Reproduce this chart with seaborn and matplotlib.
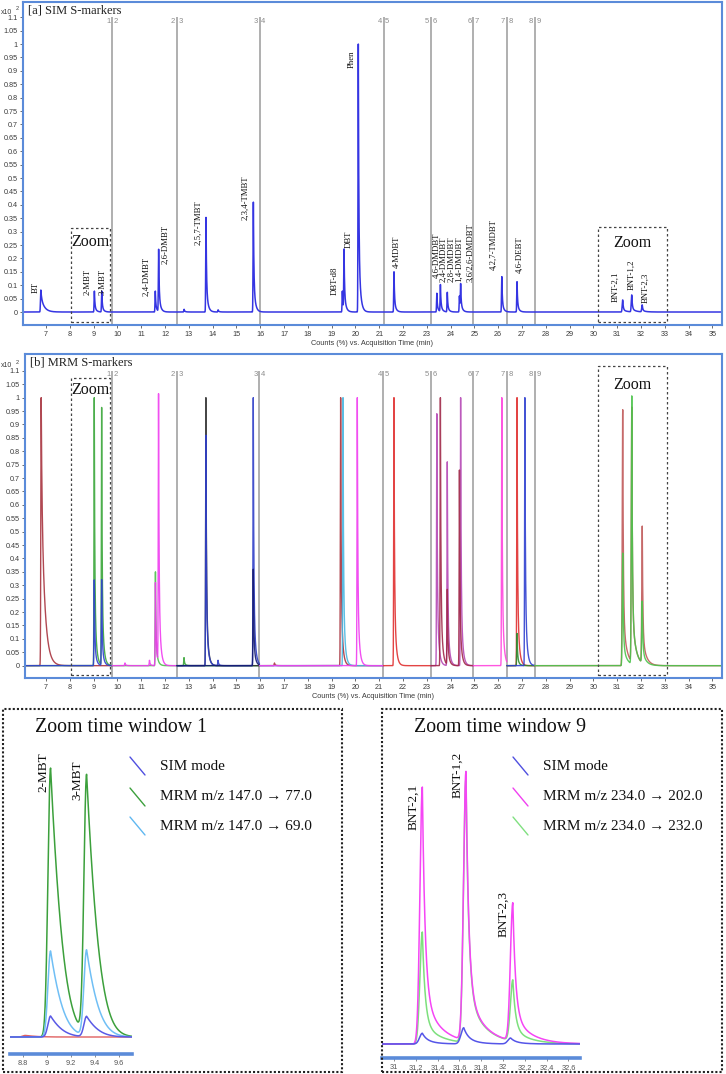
import numpy as np
import matplotlib
matplotlib.use("Agg")
import matplotlib.pyplot as plt
import seaborn as sns
from matplotlib.patches import Rectangle
from matplotlib.lines import Line2D

# ---------------------------------------------------------------- data
# boundaries of the acquisition time segments (min)
SEGMENT_BOUNDS = [9.78, 12.50, 15.97, 21.18, 23.17, 24.95, 26.36, 27.53]

# [a] SIM mode: retention time (min) and relative response (x10^2 %)
SIM_RT = [6.78, 9.03, 9.34, 11.59, 11.73, 12.80, 13.72, 14.23, 15.71, 19.45, 19.52,
          20.12, 21.62, 23.42, 23.57, 23.86, 24.37, 24.42, 26.15, 26.79, 31.23, 31.61, 32.05]
SIM_HEIGHT = [0.082, 0.078, 0.078, 0.078, 0.231, 0.010, 0.353, 0.008, 0.410, 0.078, 0.225,
              1.000, 0.150, 0.070, 0.100, 0.073, 0.060, 0.094, 0.132, 0.113, 0.045, 0.063, 0.026]

# compound names written above the SIM peaks
SIM_NAMES = ["BT", "2-MBT", "3-MBT", "2,4-DMBT", "2,6-DMBT", "2,5,7-TMBT", "2,3,4-TMBT",
             "DBT-d8", "DBT", "Phen", "4-MDBT", "4,6-DMDBT", "2,4-DMDBT", "2,8-DMDBT",
             "1,4-DMDBT", "3,6/2,6-DMDBT", "4,2,7-TMDBT", "4,6-DEBT", "BNT-2,1", "BNT-1,2",
             "BNT-2,3"]

# [b] MRM mode: one entry per transition trace (segment number, peaks)
MRM_SEGMENT = [1, 1, 1, 2, 2, 3, 3, 3, 3, 4, 4, 4, 5, 6, 6, 7, 8, 8, 8, 9, 9]
MRM_RT = [[6.80], [9.03, 9.34], [9.03, 9.34],
          [11.60], [10.32, 11.35, 11.60, 11.73],
          [12.80], [13.72], [13.72, 14.23, 15.71], [15.71],
          [16.60, 19.38], [19.48], [20.08],
          [21.62],
          [23.42, 23.86, 24.42], [23.57, 23.86, 24.37],
          [26.15],
          [26.79], [26.79], [27.12],
          [31.23, 31.61, 32.05], [31.23, 31.61, 32.05]]
MRM_HEIGHT = [[1.0], [1.0, 0.96], [0.32, 0.32],
              [0.35], [0.01, 0.02, 0.31, 1.0],
              [0.03], [1.0], [0.86, 0.02, 1.0], [0.36],
              [0.01, 1.0], [1.0], [1.0],
              [1.0],
              [0.94, 0.76, 1.0], [1.0, 0.28, 0.73],
              [1.0],
              [1.0], [0.12], [1.0],
              [0.955, 0.95, 0.51], [0.42, 1.0, 0.23]]

# zoom time window 1 (2-MBT, 3-MBT)
ZOOM1_RT = [9.03, 9.33]
ZOOM1_SIM = [0.078, 0.076]
ZOOM1_MRM_77 = [1.0, 0.963]
ZOOM1_MRM_69 = [0.32, 0.32]
ZOOM1_NAMES = ["2-MBT", "3-MBT"]

# zoom time window 9 (benzonaphthothiophenes)
ZOOM9_RT = [31.26, 31.66, 32.09]
ZOOM9_SIM = [0.04, 0.06, 0.022]
ZOOM9_MRM_202 = [0.955, 1.0, 0.513]
ZOOM9_MRM_232 = [0.416, 0.98, 0.227]
ZOOM9_NAMES = ["BNT-2,1", "BNT-1,2", "BNT-2,3"]

# ---------------------------------------------------------------- style / layout
sns.set_theme(style="white")
plt.rcParams['font.family'] = ['DejaVu Sans']
SERIF = ['Liberation Serif', 'DejaVu Serif']
SANS = ['Liberation Sans', 'DejaVu Sans']

W, H = 726, 1074
FRAME = "#5b8bd9"
SEG_GRAY = "#a9a9a9"

# peak shapes: sigma (front), tau1, tau2, fraction of tau1, gaussian cut of the tail
SHAPES = {
    "std": (0.012, 0.02, 0.07, 0.7, None),
    "bt": (0.015, 0.03, 0.14, 0.3, None),
    "bnt": (0.02, 0.025, 0.15, 0.8, None),
    "zoom1": (0.022, 0.11, 0.11, 1.0, 0.17),
    "zoom9": (0.022, 0.025, 0.15, 0.8, None),
    "zoom9sim": (0.025, 0.04, 0.10, 0.6, None),
}

MRM_COLORS = ["#a8343f", "#3aa63a", "#2f3fd0",
              "#4cc04c", "#f03cf0",
              "#3aa63a", "#333333", "#2f3fc8", "#141a70",
              "#a8343f", "#49b6e0", "#f03cf0",
              "#e03030",
              "#b548b5", "#a02848",
              "#ff44dd",
              "#e03030", "#2d8a2d", "#3040d0",
              "#c05a5a", "#4cc44c"]

# label anchors for the SIM names: (time, bottom of text)
SIM_LABEL_POS = [(6.55, 0.07), (8.74, 0.063), (9.37, 0.063), (11.23, 0.06), (12.03, 0.18),
                 (13.40, 0.25), (15.36, 0.343), (19.11, 0.063), (19.70, 0.24), (19.84, 0.91),
                 (21.73, 0.163), (23.39, 0.127), (23.71, 0.113), (24.03, 0.113), (24.37, 0.113),
                 (24.82, 0.113), (25.80, 0.157), (26.89, 0.144), (30.91, 0.038), (31.61, 0.082),
                 (32.21, 0.032)]


def chromatogram(t, rts, heights, shape):
    sigma, tau1, tau2, frac, cut = SHAPES[shape]
    y = np.zeros_like(t)
    for rt, h in zip(rts, heights):
        dt = t - rt
        pos = np.maximum(dt, 0)
        front = np.exp(-0.5 * (np.minimum(dt, 0) / sigma) ** 2)
        tail = frac * np.exp(-pos / tau1) + (1 - frac) * np.exp(-pos / tau2)
        if cut:
            tail = tail * np.exp(-0.5 * (pos / cut) ** 2)
        y += h * np.where(dt < 0, front, tail)
    return y


def draw(ax, t, y, color, lw=1.0, alpha=1.0):
    sns.lineplot(x=t, y=y, ax=ax, color=color, lw=lw, alpha=alpha,
                 estimator=None, sort=False, legend=False)


def px_axes(x0, y0, x1, y1):
    return fig.add_axes([x0 / W, 1 - y1 / H, (x1 - x0) / W, (y1 - y0) / H])


def style_overview(ax, title):
    for s in ax.spines.values():
        s.set_visible(True)
        s.set_color(FRAME)
        s.set_linewidth(1.5)
    ax.set_yticks(np.arange(0, 1.101, 0.05))
    ax.set_yticklabels([f"{v:g}" for v in np.arange(0, 1.101, 0.05)])
    ax.set_xticks(np.arange(7, 36))
    ax.set_xticklabels([str(v) for v in range(7, 36)])
    ax.tick_params(axis='both', length=2.5, width=0.6, color="#555555", labelcolor="#3a3a3a",
                   labelsize=5.2, pad=1.5, left=True, bottom=True)
    for lab in ax.get_xticklabels() + ax.get_yticklabels():
        lab.set_family(SANS)
    ax.set_xlabel("Counts (%) vs. Acquisition Time (min)", fontsize=5.3, color="#3a3a3a",
                  family=SANS, labelpad=2)
    ax.set_ylabel("")
    ax.text(0.0075, 0.975, title, transform=ax.transAxes, va='center', ha='left',
            fontsize=9, family=SERIF, color="#222222")
    for i, b in enumerate(SEGMENT_BOUNDS, start=1):
        ax.vlines(b, -0.06, 1.1, color=SEG_GRAY, lw=1.3, zorder=1)
        ax.text(b - 0.07, 1.085, str(i), ha='right', va='center', fontsize=5.5,
                color="#8c8c8c", family=SANS)
        ax.text(b + 0.07, 1.085, str(i + 1), ha='left', va='center', fontsize=5.5,
                color="#8c8c8c", family=SANS)


def zoom_box(ax, x0, x1, y0, y1, text_y):
    ax.add_patch(Rectangle((x0, y0), x1 - x0, y1 - y0, fill=False, ec="#444444",
                           lw=0.9, ls=(0, (2, 2)), zorder=6))
    ax.text((x0 + x1) / 2, text_y, "Zoom", ha='center', va='center', fontsize=11.5,
            family=SERIF, color="#111111", zorder=6)


fig = plt.figure(figsize=(W / 100, H / 100), dpi=100)

# ---------------------------------------------------------------- [a] SIM
t = np.arange(6.0, 35.5, 0.002)
ax_a = px_axes(23, 2, 721.7, 325)
sim = np.zeros_like(t)
for rt, h in zip(SIM_RT, SIM_HEIGHT):
    shape = "bt" if rt < 7 else ("bnt" if rt > 30 else "std")
    sim += chromatogram(t, [rt], [h], shape)
draw(ax_a, t, sim, "#3535e2", lw=1.1)
ax_a.set_xlim(6.03, 35.39)
ax_a.set_ylim(-0.0485, 1.157)
style_overview(ax_a, "[a] SIM S-markers")
for name, (lx, ly) in zip(SIM_NAMES, SIM_LABEL_POS):
    ax_a.text(lx, ly, name, rotation=90, ha='center', va='bottom', fontsize=6.3,
              family=SERIF, color="#111111")
zoom_box(ax_a, 8.04, 9.69, -0.036, 0.315, 0.26)
zoom_box(ax_a, 30.2, 33.1, -0.036, 0.317, 0.257)
fig.text(1 / W, 1 - 12 / H, "x10", fontsize=5, family=SANS, color="#3a3a3a", va='center')
fig.text(15.5 / W, 1 - 8 / H, "2", fontsize=4, family=SANS, color="#3a3a3a", va='center')

# ---------------------------------------------------------------- [b] MRM
ax_b = px_axes(25, 354, 722, 678)
edges = [6.0] + SEGMENT_BOUNDS + [35.5]
for seg, rts, hs, col in zip(MRM_SEGMENT, MRM_RT, MRM_HEIGHT, MRM_COLORS):
    lo, hi = edges[seg - 1], edges[seg]
    ts = t[(t >= lo) & (t <= hi)]
    shape = "bt" if seg == 1 and rts[0] < 7 else ("bnt" if seg == 9 else "std")
    draw(ax_b, ts, chromatogram(ts, rts, hs, shape), col, lw=1.0, alpha=0.9)
ax_b.set_xlim(6.12, 35.4)
ax_b.set_ylim(-0.046, 1.163)
style_overview(ax_b, "[b] MRM S-markers")
zoom_box(ax_b, 8.04, 9.69, -0.035, 1.074, 1.03)
zoom_box(ax_b, 30.18, 33.1, -0.035, 1.118, 1.047)
fig.text(1 / W, 1 - 366 / H, "x10", fontsize=5, family=SANS, color="#3a3a3a", va='center')
fig.text(15.5 / W, 1 - 362 / H, "2", fontsize=4, family=SANS, color="#3a3a3a", va='center')


# ---------------------------------------------------------------- zoom windows
def style_inset(ax, ticks, fmt):
    for name, s in ax.spines.items():
        s.set_visible(name == "bottom")
    ax.spines["bottom"].set_color(FRAME)
    ax.spines["bottom"].set_linewidth(2.6)
    ax.set_yticks([])
    ax.set_xticks(ticks)
    ax.set_xticklabels([fmt(v) for v in ticks])
    ax.tick_params(axis='x', length=2.5, width=0.6, color="#777777", labelcolor="#555555",
                   labelsize=5.3, pad=1.5, bottom=True)
    for lab in ax.get_xticklabels():
        lab.set_family(SANS)
    ax.set_xlabel("")
    ax.set_ylabel("")
    ax.patch.set_alpha(0)


def window_frame(x0, x1, title, legend_x, entries):
    fig.add_artist(Rectangle((x0 / W, 1 - 1072 / H), (x1 - x0) / W, (1072 - 709) / H,
                             transform=fig.transFigure, fill=False, ec="#222222",
                             lw=1.5, ls=(0, (1, 1))))
    fig.text((x0 + 32) / W, 1 - 727 / H, title, fontsize=14.3, family=SERIF,
             va='center', ha='left', color="#111111")
    for yc, (lab, col) in zip([766, 797, 826], entries):
        fig.add_artist(Line2D([legend_x / W, (legend_x + 15) / W],
                              [1 - (yc - 9) / H, 1 - (yc + 9) / H],
                              transform=fig.transFigure, color=col, lw=1.0))
        fig.text((legend_x + 30) / W, 1 - yc / H, lab, fontsize=11, family=SERIF,
                 va='center', ha='left', color="#111111")


# window 1
t1 = np.arange(8.69, 9.71, 0.001)
ax_z1 = px_axes(10, 760, 132, 1054)
draw(ax_z1, t1, chromatogram(t1, [8.82], [0.006], "zoom1"), "#e06060", lw=1.0)
draw(ax_z1, t1, chromatogram(t1, ZOOM1_RT, ZOOM1_MRM_77, "zoom1"), "#3ca03c", lw=1.1)
draw(ax_z1, t1, chromatogram(t1, ZOOM1_RT, ZOOM1_MRM_69, "zoom1"), "#70bff5", lw=1.1)
draw(ax_z1, t1, chromatogram(t1, ZOOM1_RT, ZOOM1_SIM, "zoom1"), "#5a5ae6", lw=1.1)
ax_z1.set_xlim(8.692, 9.708)
ax_z1.set_ylim(-0.0632, 1.03)
style_inset(ax_z1, [8.8, 9.0, 9.2, 9.4, 9.6], lambda v: f"{v:g}")
for name, lx, ly in zip(ZOOM1_NAMES, [8.967, 9.25], [0.911, 0.881]):
    ax_z1.text(lx, ly, name, rotation=90, ha='center', va='bottom', fontsize=9.5,
               family=SERIF, color="#111111")
window_frame(3, 342, "Zoom time window 1", 130,
             [("SIM mode", "#5050e0"), ("MRM m/z 147.0 → 77.0", "#3ca03c"),
              ("MRM m/z 147.0 → 69.0", "#60b8f0")])

# window 9
t9 = np.arange(30.89, 32.71, 0.001)
ax_z9 = px_axes(382, 765, 580, 1058)
draw(ax_z9, t9, chromatogram(t9, ZOOM9_RT, ZOOM9_MRM_232, "zoom9"), "#7de07d", lw=1.1)
draw(ax_z9, t9, chromatogram(t9, ZOOM9_RT, ZOOM9_MRM_202, "zoom9"), "#f545f5", lw=1.1)
draw(ax_z9, t9, chromatogram(t9, [31.26, 31.64, 32.07], ZOOM9_SIM, "zoom9sim"), "#5555e8", lw=1.1)
ax_z9.set_xlim(30.89, 32.706)
ax_z9.set_ylim(-0.052, 1.037)
style_inset(ax_z9, list(np.round(np.arange(31.0, 32.61, 0.2), 1)),
            lambda v: f"{v:g}".replace(".", ","))
for name, lx, ly in zip(ZOOM9_NAMES, [31.177, 31.581, 32.003], [0.796, 0.914, 0.399]):
    ax_z9.text(lx, ly, name, rotation=90, ha='center', va='bottom', fontsize=9.5,
               family=SERIF, color="#111111")
window_frame(382, 722, "Zoom time window 9", 513,
             [("SIM mode", "#5050e0"), ("MRM m/z 234.0 → 202.0", "#f040f0"),
              ("MRM m/z 234.0 → 232.0", "#80e080")])

fig.savefig("out.png", dpi=100)
